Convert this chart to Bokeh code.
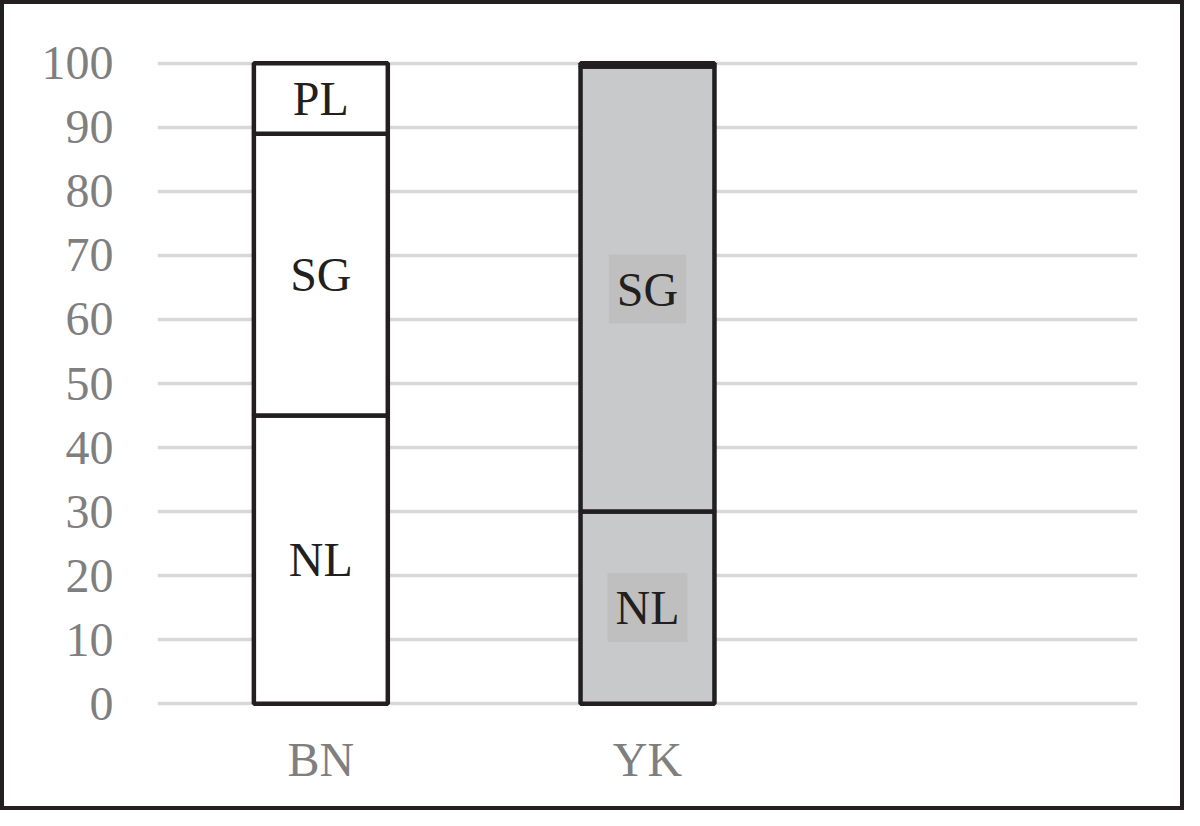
import numpy as np
from bokeh.plotting import figure
from bokeh.models import ColumnDataSource, FactorRange, Range1d, FixedTicker, LabelSet
from bokeh.core.properties import value
from bokeh.embed import file_html
from bokeh.resources import INLINE

# ---- data ----
categories = ["BN", "YK"]
x_factors = ["BN", "YK", " "]
series = ["NL", "SG", "PL"]
nl = [45, 30]
sg = [44, 69.5]
pl = [11, 0.5]
bar_fill = ["#ffffff", "#c8c9cb"]
y_ticks = [0, 10, 20, 30, 40, 50, 60, 70, 80, 90, 100]
show_label = {"BN": ["NL", "SG", "PL"], "YK": ["NL", "SG"]}

values = np.array([nl, sg, pl], dtype=float)  # series x category
tops = np.cumsum(values, axis=0)
bottoms = tops - values

seg = dict(x=[], bottom=[], top=[], fill=[])
lab_bn = dict(x=[], y=[], text=[])
lab_yk = dict(x=[], y=[], text=[])
for j, cat in enumerate(categories):
    for i, s in enumerate(series):
        seg["x"].append(cat)
        seg["bottom"].append(bottoms[i, j])
        seg["top"].append(tops[i, j])
        seg["fill"].append(bar_fill[j])
        if s in show_label[cat]:
            d = lab_bn if cat == "BN" else lab_yk
            d["x"].append(cat)
            d["y"].append((bottoms[i, j] + tops[i, j]) / 2)
            d["text"].append(s)

FONT = "Liberation Serif"
BLACK = "#231f20"
GRAY_TXT = "#7f7f7f"
GRID = "#d9d9d9"

p = figure(
    x_range=FactorRange(*x_factors, range_padding=0),
    y_range=Range1d(-0.6, 100.6),
    width=1184, height=810,
    output_backend="svg", toolbar_location=None,
    min_border_left=153, min_border_right=51,
    min_border_top=55, min_border_bottom=107,
)
p.styles = {"border": "4px solid #231f20"}
p.outline_line_color = None
p.background_fill_color = "white"
p.border_fill_color = "white"

# grid
p.xgrid.grid_line_color = None
p.ygrid.grid_line_color = GRID
p.ygrid.grid_line_width = 3.5
p.ygrid.ticker = FixedTicker(ticks=y_ticks)

# y axis
p.yaxis.ticker = FixedTicker(ticks=y_ticks)
p.yaxis.axis_line_color = None
p.yaxis.major_tick_line_color = None
p.yaxis.minor_tick_line_color = None
p.yaxis.major_tick_out = 0
p.yaxis.major_tick_in = 0
p.yaxis.major_label_standoff = 44
p.yaxis.major_label_text_font = FONT
p.yaxis.major_label_text_font_size = "48px"
p.yaxis.major_label_text_color = GRAY_TXT

# x axis
p.xaxis.axis_line_color = None
p.xaxis.major_tick_line_color = None
p.xaxis.major_tick_out = 0
p.xaxis.major_tick_in = 0
p.xaxis.major_label_standoff = 25
p.xaxis.major_label_text_font = FONT
p.xaxis.major_label_text_font_size = "48px"
p.xaxis.major_label_text_color = GRAY_TXT

src = ColumnDataSource(seg)
p.vbar(x="x", bottom="bottom", top="top", width=0.41, source=src,
       fill_color="fill", line_color=BLACK, line_width=4.5)

p.add_layout(LabelSet(x="x", y="y", text="text", source=ColumnDataSource(lab_bn),
                      text_align="center", text_baseline="middle",
                      text_font=FONT, text_font_size="48px", text_color=BLACK))

yk_src = ColumnDataSource(lab_yk)
try:
    p.text(x="x", y="y", text="text", source=yk_src,
           text_align="center", text_baseline="middle",
           text_font=value(FONT), text_font_size="48px", text_color=BLACK,
           background_fill_color="#bfbfbf", padding=8)
except Exception:
    p.add_layout(LabelSet(x="x", y="y", text="text", source=yk_src,
                          text_align="center", text_baseline="middle",
                          text_font=FONT, text_font_size="48px", text_color=BLACK,
                          background_fill_color="#bfbfbf"))

open("out.html", "w").write(file_html(p, INLINE))
